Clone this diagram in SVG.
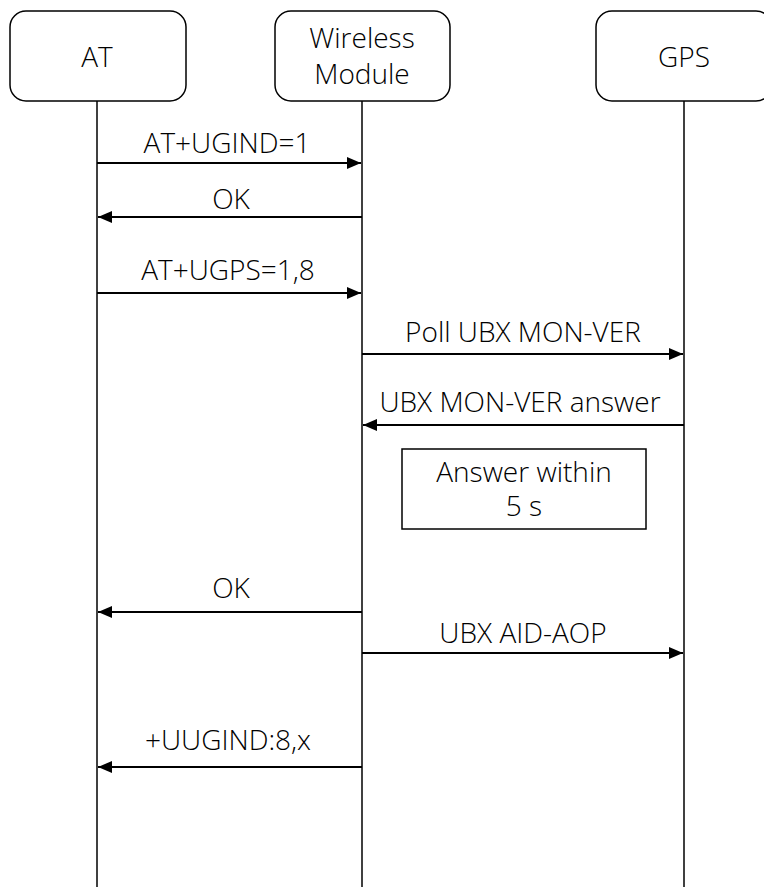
<svg xmlns="http://www.w3.org/2000/svg" width="764" height="887" viewBox="0 0 764 887">
  <style>
    text { font-family: "Open Sans", "Noto Sans", "DejaVu Sans", sans-serif; font-size: 28px; font-weight: 300; fill: #000; text-anchor: middle; }
    .box { fill: #fff; stroke: #000; stroke-width: 1.5; }
    .life { stroke: #000; stroke-width: 1.5; fill: none; }
    .msg { stroke: #000; stroke-width: 2; fill: none; marker-end: url(#arrow); }
  </style>
  <defs>
    <marker id="arrow" viewBox="0 0 14 12" refX="14" refY="6" markerWidth="14" markerHeight="12" markerUnits="userSpaceOnUse" orient="auto">
      <path d="M0,0 L14,6 L0,12 Z" fill="#000"/>
    </marker>
  </defs>

  <!-- lifelines -->
  <g id="lifelines">
    <line class="life" x1="97" y1="101" x2="97" y2="887"/>
    <line class="life" x1="362" y1="101" x2="362" y2="887"/>
    <line class="life" x1="684" y1="101" x2="684" y2="887"/>
  </g>

  <!-- participants -->
  <g id="node-at">
    <rect class="box" x="10" y="11" width="176" height="90" rx="16"/>
    <text x="97" y="67">AT</text>
  </g>
  <g id="node-wireless">
    <rect class="box" x="275" y="11" width="175" height="90" rx="16"/>
    <text x="362" y="48">Wireless</text>
    <text x="362" y="84">Module</text>
  </g>
  <g id="node-gps">
    <rect class="box" x="596" y="11" width="176" height="90" rx="16"/>
    <text x="684" y="67">GPS</text>
  </g>

  <!-- messages -->
  <g id="connectors">
    <line class="msg" x1="97" y1="163" x2="361" y2="163"/>
    <text x="227" y="153">AT+UGIND=1</text>

    <line class="msg" x1="362" y1="217" x2="98" y2="217"/>
    <text x="231" y="209">OK</text>

    <line class="msg" x1="97" y1="293" x2="361" y2="293"/>
    <text x="228" y="280">AT+UGPS=1,8</text>

    <line class="msg" x1="362" y1="354" x2="683" y2="354"/>
    <text x="523" y="342">Poll UBX MON-VER</text>

    <line class="msg" x1="684" y1="425" x2="363" y2="425"/>
    <text x="520" y="412">UBX MON-VER answer</text>

    <line class="msg" x1="362" y1="612" x2="98" y2="612"/>
    <text x="231" y="598">OK</text>

    <line class="msg" x1="362" y1="653" x2="683" y2="653"/>
    <text x="523" y="643">UBX AID-AOP</text>

    <line class="msg" x1="362" y1="767" x2="98" y2="767"/>
    <text x="228" y="750">+UUGIND:8,x</text>
  </g>

  <!-- timing note -->
  <g id="note-answer">
    <rect class="box" x="402" y="449" width="244" height="80"/>
    <text x="524" y="482">Answer within</text>
    <text x="524" y="516">5 s</text>
  </g>
</svg>
